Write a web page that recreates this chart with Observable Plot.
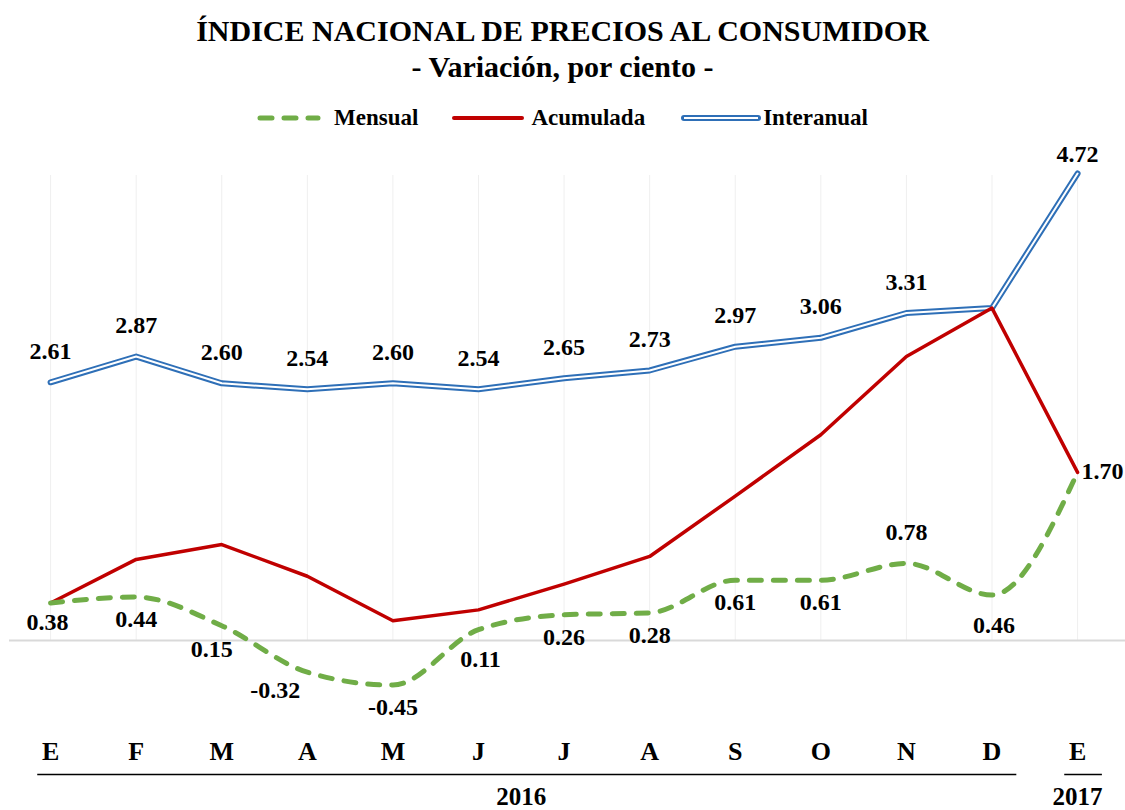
<!DOCTYPE html>
<html><head><meta charset="utf-8">
<script src="https://cdn.jsdelivr.net/npm/d3@7"></script>
<script src="https://cdn.jsdelivr.net/npm/@observablehq/plot@0.6"></script>
<style>
body{margin:0;background:#fff;font-family:"Liberation Serif","Times New Roman",serif;color:#000}
#wrap{width:1125px;height:810px;position:relative;overflow:hidden}
#head{height:140px;position:relative}
.t{position:absolute;left:0;width:1125px;text-align:center;font-weight:bold;font-size:30px;line-height:30px;white-space:nowrap}
#legend{position:absolute;top:107px;left:0;width:1125px;height:22px;display:flex;justify-content:center;align-items:center;font-weight:bold;font-size:23px;line-height:22px}
#legend .it{display:flex;align-items:center}
#legend svg{display:block}
</style></head>
<body><div id="wrap">
<div id="head">
  <div class="t" style="top:16px">ÍNDICE NACIONAL DE PRECIOS AL CONSUMIDOR</div>
  <div class="t" style="top:52px">- Variación, por ciento -</div>
  <div id="legend"></div>
</div>
<div id="chart"></div>
</div>
<script>
// ---- data ----
const months = ["E","F","M","A","M","J","J","A","S","O","N","D","E"];
const years = [{year:"2016", first:0, last:11}, {year:"2017", first:12, last:12}];
const mensual   = [0.38, 0.44, 0.15, -0.32, -0.45, 0.11, 0.26, 0.28, 0.61, 0.61, 0.78, 0.46, 1.70];
const acumulada = [0.38, 0.82, 0.97, 0.65, 0.20, 0.31, 0.57, 0.85, 1.46, 2.08, 2.87, 3.36, 1.70];
const interanual= [2.61, 2.87, 2.60, 2.54, 2.60, 2.54, 2.65, 2.73, 2.97, 3.06, 3.31, 3.36, 4.72];
// where each value label sits relative to its point (null = no label)
const mensualLabelPos    = ["below-near","below","below-left-near","below-left","below","below-far","below","below","below","below","above","below-far","right"];
const interanualLabelPos = ["above","above","above","above","above","above","above","above","above","above","above",null,"above-near"];

// ---- styles ----
const GREEN = "#70ad47", RED = "#c00000", BLUE = "#2e6fb7";
const yMin = -1, yMax = 4.7;
const idx = months.map((_, i) => i);
const fmt = v => v.toFixed(2);
const offsets = {
  "below":           {dx: 0,   dy: 22},
  "below-near":      {dx: -3,  dy: 19},
  "below-far":       {dx: 2,   dy: 30},
  "below-left-near": {dx: -10, dy: 24},
  "above":           {dx: 0,   dy: -31},
  "above-near":      {dx: 0,   dy: -19},
  "below-left":      {dx: -32, dy: 18},
  "right":           {dx: 4,   dy: -1, textAnchor: "start"}
};
const labelStyle = {fontSize: 24, fontWeight: "bold", fill: "#000"};

function labelMarks(values, pos) {
  return Object.entries(offsets).map(([key, o]) =>
    Plot.text(idx.filter(i => pos[i] === key), {
      x: i => i, y: i => values[i], text: i => fmt(values[i]),
      ...labelStyle, ...o
    }));
}

// ---- legend ----
const legendItems = [
  {name: "Mensual", stroke: GREEN, w: 64, dash: "12,12", width: 5, gapAfter: 13, gapBefore: 0},
  {name: "Acumulada", stroke: RED, w: 74, width: 4, gapAfter: 6, gapBefore: 33},
  {name: "Interanual", stroke: BLUE, w: 80, width: 6, inner: true, gapAfter: 2, gapBefore: 36}
];
const leg = d3.select("#legend");
legendItems.forEach(it => {
  const d = leg.append("div").attr("class","it").style("margin-left", it.gapBefore + "px");
  const s = d.append("svg").attr("width", it.w).attr("height", 12).style("margin-right", it.gapAfter + "px");
  const l = s.append("line").attr("x1", 3).attr("x2", it.w - 3).attr("y1", 6).attr("y2", 6)
    .attr("stroke", it.stroke).attr("stroke-width", it.width).attr("stroke-linecap", "round");
  if (it.dash) l.attr("stroke-dasharray", it.dash);
  if (it.inner) s.append("line").attr("x1", 3).attr("x2", it.w - 3).attr("y1", 6).attr("y2", 6)
    .attr("stroke", "#fff").attr("stroke-width", 2);
  d.append("span").text(it.name);
});

// ---- chart ----
const chart = Plot.plot({
  width: 1125, height: 670,
  marginLeft: 9, marginRight: 0, marginTop: 35, marginBottom: 71,
  style: {fontFamily: "'Liberation Serif','Times New Roman',serif", background: "#fff", color: "#000"},
  x: {domain: [-0.48, 12.56], axis: null},
  y: {domain: [yMin, yMax], axis: null},
  marks: [
    Plot.ruleX(idx, {x: i => i, y1: 0, y2: yMax, stroke: "#efefef", strokeWidth: 1}),
    Plot.ruleY([0], {stroke: "#d9d9d9", strokeWidth: 2}),
    Plot.axisX(idx, {tickFormat: i => months[i], tickSize: 0, tickPadding: 2, fontSize: 26, fontWeight: "bold", label: null}),
    Plot.ruleY(years, {x1: d => d.first - 0.15, x2: d => d.last + 0.29, y: () => yMin, dy: 35, stroke: "#000", strokeWidth: 1.6}),
    Plot.text(years, {x: d => (d.first + d.last) / 2, y: () => yMin, dy: 57, text: d => d.year, fontSize: 25, fontWeight: "bold", fill: "#000"}),
    Plot.line(idx, {x: i => i, y: i => interanual[i], stroke: BLUE, strokeWidth: 6, strokeLinecap: "round", strokeLinejoin: "round"}),
    Plot.line(idx, {x: i => i, y: i => interanual[i], stroke: "#fff", strokeWidth: 2, strokeLinejoin: "round"}),
    Plot.line(idx, {x: i => i, y: i => acumulada[i], stroke: RED, strokeWidth: 3.5, strokeLinejoin: "round"}),
    Plot.line(idx, {x: i => i, y: i => mensual[i], stroke: GREEN, strokeWidth: 5, strokeDasharray: "12,12", strokeLinecap: "round", curve: "monotone-x"}),
    ...labelMarks(interanual, interanualLabelPos),
    ...labelMarks(mensual, mensualLabelPos)
  ]
});
document.getElementById("chart").appendChild(chart);
</script>
</body></html>
